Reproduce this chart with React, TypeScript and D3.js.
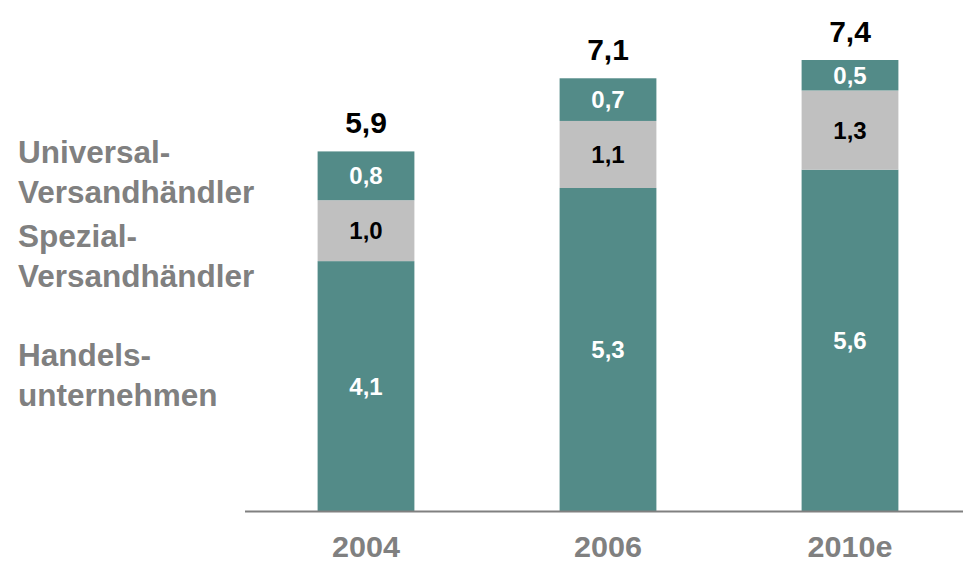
import React from "react";
import * as d3 from "d3";

const years = ["2004", "2006", "2010e"];
const handels = [4.1, 5.3, 5.6];
const spezial = [1.0, 1.1, 1.3];
const universal = [0.8, 0.7, 0.5];
const totals = [5.9, 7.1, 7.4];
const seriesNames = ["Handels-\nunternehmen", "Spezial-\nVersandhändler", "Universal-\nVersandhändler"];

const W = 963;
const H = 563;
const TEAL = "#538b88";
const GRAY = "#c0c0c0";
const LABEL_GRAY = "#808080";
const FONT = "'Liberation Sans', Arial, Helvetica, sans-serif";

const fmt = (v: number) => v.toFixed(1).replace(".", ",");

export default function App() {
  const x = d3.scaleBand<string>().domain(years).range([245, 971]).paddingInner(0.6).paddingOuter(0.3);
  const y = d3.scaleLinear().domain([0, 7.4]).range([511, 60]);

  const rows = years.map((yr, i) => ({ yr, h: handels[i], s: spezial[i], u: universal[i], t: totals[i] }));
  const stack = d3.stack<any>().keys(["h", "s", "u"])(rows);
  const colors = [TEAL, GRAY, TEAL];
  const textColors = ["#ffffff", "#000000", "#ffffff"];

  const legendY = [366, 247, 163];

  return (
    <svg width={W} height={H} style={{ position: "absolute", left: 0, top: 0 }} fontFamily={FONT}>
      <rect width={W} height={H} fill="#ffffff" />
      {stack.map((layer, li) =>
        layer.map((d, i) => (
          <g key={`${li}-${i}`}>
            <rect
              x={x(years[i])}
              y={y(d[1])}
              width={x.bandwidth()}
              height={y(d[0]) - y(d[1])}
              fill={colors[li]}
            />
            <text
              x={(x(years[i]) as number) + x.bandwidth() / 2}
              y={(y(d[0]) + y(d[1])) / 2}
              dy="0.36em"
              textAnchor="middle"
              fontSize={24}
              fontWeight="bold"
              fill={textColors[li]}
            >
              {fmt(d[1] - d[0])}
            </text>
          </g>
        ))
      )}
      {rows.map((r) => (
        <text
          key={r.yr}
          x={(x(r.yr) as number) + x.bandwidth() / 2}
          y={y(r.t) - 18}
          textAnchor="middle"
          fontSize={30}
          fontWeight="bold"
          fill="#000000"
        >
          {fmt(r.t)}
        </text>
      ))}
      <line x1={245} x2={W} y1={y(0) + 0.5} y2={y(0) + 0.5} stroke={LABEL_GRAY} strokeWidth={2} />
      {years.map((yr) => (
        <text
          key={yr}
          x={(x(yr) as number) + x.bandwidth() / 2}
          y={557}
          textAnchor="middle"
          fontSize={30}
          fontWeight="bold"
          fill={LABEL_GRAY}
          textLength={yr.length * 17}
          lengthAdjust="spacingAndGlyphs"
        >
          {yr}
        </text>
      ))}
      {seriesNames.map((name, i) => (
        <text key={name} x={18} y={legendY[i]} fontSize={31.5} fontWeight="bold" fill={LABEL_GRAY}>
          {name.split("\n").map((line, j) => (
            <tspan key={j} x={18} dy={j === 0 ? 0 : 40}>
              {line}
            </tspan>
          ))}
        </text>
      ))}
    </svg>
  );
}
